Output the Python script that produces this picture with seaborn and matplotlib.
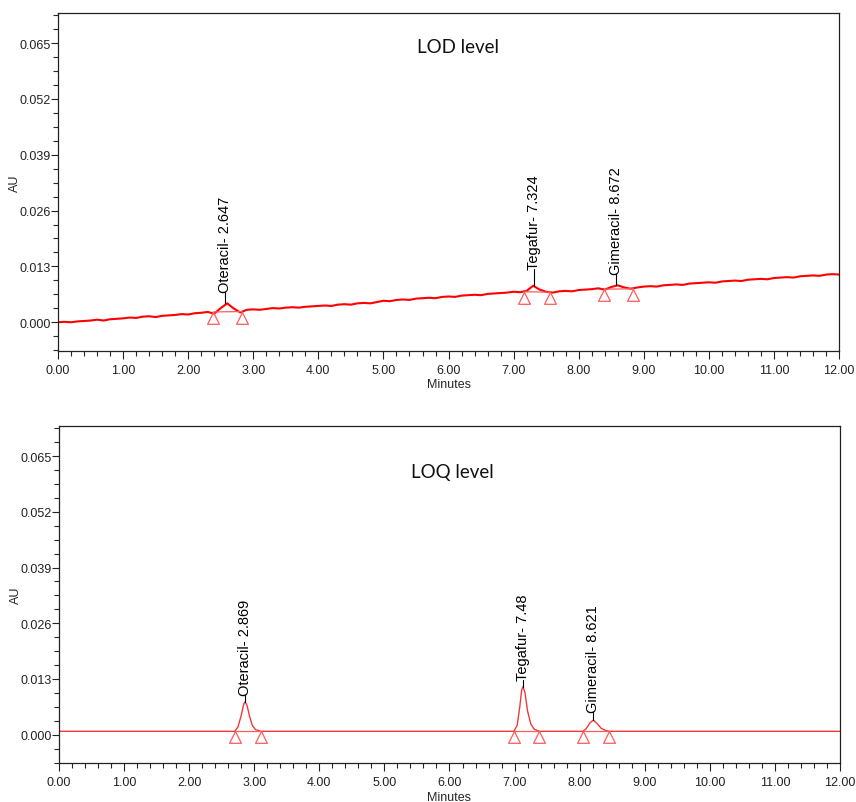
import numpy as np
import pandas as pd
import matplotlib
matplotlib.use("Agg")
import matplotlib.pyplot as plt
from matplotlib.ticker import MultipleLocator, FormatStrFormatter
import seaborn as sns

# LOD chromatogram, sampled every 0.1 min (AU)
lod_time = np.round(np.arange(0, 12.01, 0.1), 1)
lod_au = [
    0.0000, 0.0001, 0.0000, 0.0002, 0.0003, 0.0004, 0.0006, 0.0004, 0.0007, 0.0008,
    0.0009, 0.0011, 0.0010, 0.0013, 0.0014, 0.0012, 0.0015, 0.0016, 0.0017, 0.0019,
    0.0018, 0.0021, 0.0022, 0.0024, 0.0020, 0.0033, 0.0044, 0.0032, 0.0023, 0.0029,
    0.0030, 0.0029, 0.0031, 0.0033, 0.0032, 0.0034, 0.0035, 0.0034, 0.0036, 0.0037,
    0.0038, 0.0039, 0.0038, 0.0041, 0.0042, 0.0041, 0.0044, 0.0045, 0.0044, 0.0047,
    0.0050, 0.0049, 0.0052, 0.0053, 0.0052, 0.0055, 0.0056, 0.0057, 0.0056, 0.0059,
    0.0060, 0.0059, 0.0062, 0.0063, 0.0064, 0.0063, 0.0066, 0.0067, 0.0068, 0.0069,
    0.0071, 0.0070, 0.0073, 0.0085, 0.0076, 0.0071, 0.0069, 0.0072, 0.0073, 0.0072,
    0.0075, 0.0076, 0.0077, 0.0079, 0.0076, 0.0082, 0.0086, 0.0081, 0.0078, 0.0081,
    0.0083, 0.0084, 0.0083, 0.0086, 0.0087, 0.0088, 0.0087, 0.0090, 0.0091, 0.0092,
    0.0093, 0.0092, 0.0095, 0.0096, 0.0097, 0.0096, 0.0099, 0.0100, 0.0101, 0.0100,
    0.0103, 0.0104, 0.0105, 0.0104, 0.0107, 0.0108, 0.0109, 0.0108, 0.0111, 0.0112,
    0.0111,
]

# LOD peaks
lod_names = ["Oteracil- 2.647", "Tegafur- 7.324", "Gimeracil- 8.672"]
lod_apex_t = [2.57, 7.31, 8.57]
lod_apex_au = [0.0044, 0.0085, 0.0086]
lod_label_au = [0.0070, 0.0124, 0.0112]
lod_start_t = [2.38, 7.16, 8.39]
lod_end_t = [2.83, 7.56, 8.84]
lod_start_au = [0.0024, 0.0071, 0.0077]
lod_end_au = [0.0025, 0.0070, 0.0078]

# LOQ chromatogram (flat baseline plus three peaks)
loq_time = [0.00,
            2.70, 2.75, 2.80, 2.84, 2.86, 2.89, 2.93, 2.97, 3.02, 3.10,
            6.99, 7.04, 7.08, 7.11, 7.13, 7.16, 7.20, 7.25, 7.30, 7.38,
            8.05, 8.10, 8.16, 8.21, 8.27, 8.33, 8.40, 8.45,
            12.00]
loq_au = [0.0008,
          0.0008, 0.0018, 0.0045, 0.0072, 0.0077, 0.0068, 0.0042, 0.0022, 0.0012, 0.0008,
          0.0008, 0.0022, 0.0065, 0.0105, 0.0112, 0.0098, 0.0055, 0.0025, 0.0013, 0.0008,
          0.0008, 0.0014, 0.0028, 0.0034, 0.0026, 0.0015, 0.0010, 0.0008,
          0.0008]

loq_names = ["Oteracil- 2.869", "Tegafur- 7.48", "Gimeracil- 8.621"]
loq_apex_t = [2.86, 7.13, 8.21]
loq_apex_au = [0.0077, 0.0112, 0.0034]
loq_label_au = [0.0093, 0.0128, 0.0052]
loq_start_t = [2.70, 6.99, 8.05]
loq_end_t = [3.10, 7.38, 8.45]
loq_start_au = [0.0008, 0.0008, 0.0008]
loq_end_au = [0.0008, 0.0008, 0.0008]

sns.set_style("ticks")
plt.rcParams["font.family"] = ["Liberation Sans", "DejaVu Sans"]

fig = plt.figure(figsize=(8.56, 8.03), dpi=100)
ax1 = fig.add_axes([0.0678, 0.5616, 0.9124, 0.4210])
ax2 = fig.add_axes([0.0689, 0.0480, 0.9124, 0.4202])

# triangle marker with its apex on the data point
tri = [(0, 0), (-0.5, -1), (0.5, -1), (0, 0)]


def draw_panel(ax, t, au, line_color, lw, names, apex_t, apex_au, label_au,
               st, en, st_au, en_au, title, title_xy):
    df = pd.DataFrame({"Minutes": t, "AU": au})
    sns.lineplot(data=df, x="Minutes", y="AU", ax=ax, color=line_color,
                 linewidth=lw, estimator=None, sort=False)
    mark_c = "#ff5c5c"
    for i in range(len(names)):
        ax.plot([st[i], en[i]], [st_au[i], en_au[i]], color=mark_c, lw=0.9)
        ax.plot([st[i], en[i]], [st_au[i], en_au[i]], ls="none", marker=tri,
                markersize=17, markerfacecolor="none", markeredgecolor=mark_c,
                markeredgewidth=0.9)
        ax.plot([apex_t[i], apex_t[i]], [apex_au[i], label_au[i]],
                color="black", lw=0.8)
        ax.text(apex_t[i], label_au[i], names[i], rotation=90, ha="center",
                va="bottom", fontsize=10.5, color="black")
    ax.text(title_xy[0], title_xy[1], title, transform=ax.transAxes,
            ha="center", va="center", fontsize=13.5, family=["Lato", "DejaVu Sans"],
            color="#111111")
    ax.set_xlim(0, 12)
    ax.set_ylim(-0.0067, 0.0720)
    ax.xaxis.set_major_locator(MultipleLocator(1))
    ax.xaxis.set_minor_locator(MultipleLocator(0.2))
    ax.yaxis.set_major_locator(MultipleLocator(0.013))
    ax.yaxis.set_minor_locator(MultipleLocator(0.00325))
    ax.xaxis.set_major_formatter(FormatStrFormatter("%.2f"))
    ax.yaxis.set_major_formatter(FormatStrFormatter("%.3f"))
    ax.tick_params(axis="both", which="major", labelsize=9, colors="#222222",
                   width=0.8, length=5)
    ax.tick_params(axis="y", which="major", pad=0)
    ax.tick_params(axis="x", which="major", pad=3, length=6)
    ax.tick_params(axis="both", which="minor", width=0.8, length=3.5)
    ax.set_xlabel("Minutes", fontsize=9, labelpad=2)
    ax.set_ylabel("AU", fontsize=9)
    ax.yaxis.set_label_coords(-0.047, 0.5)
    for s in ax.spines.values():
        s.set_linewidth(0.9)
        s.set_color("#222222")


draw_panel(ax1, lod_time, lod_au, "#ff0000", 1.5, lod_names, lod_apex_t,
           lod_apex_au, lod_label_au, lod_start_t, lod_end_t, lod_start_au,
           lod_end_au, "LOD level", (0.512, 0.90))
draw_panel(ax2, loq_time, loq_au, "#f03a3a", 1.0, loq_names, loq_apex_t,
           loq_apex_au, loq_label_au, loq_start_t, loq_end_t, loq_start_au,
           loq_end_au, "LOQ level", (0.504, 0.865))

fig.savefig("out.png", dpi=100)
